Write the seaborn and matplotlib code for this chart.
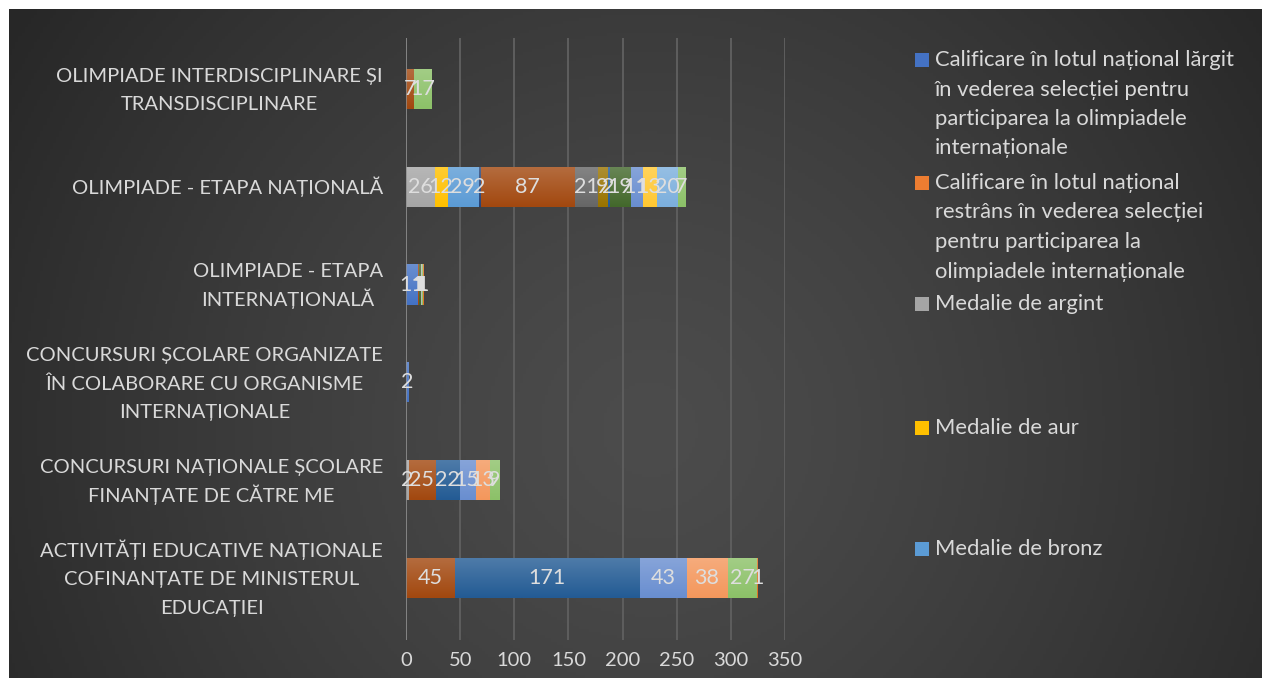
import numpy as np
import pandas as pd
import matplotlib
matplotlib.use("Agg")
import matplotlib.pyplot as plt
import seaborn as sns
from matplotlib.patches import Rectangle
from matplotlib.colors import to_rgb

# ---------------- data ----------------
categories = [
    "OLIMPIADE INTERDISCIPLINARE ȘI\nTRANSDISCIPLINARE",
    "OLIMPIADE - ETAPA NAȚIONALĂ",
    "OLIMPIADE - ETAPA\nINTERNAȚIONALĂ",
    "CONCURSURI ȘCOLARE ORGANIZATE\nÎN COLABORARE CU ORGANISME\nINTERNAȚIONALE",
    "CONCURSURI NAȚIONALE ȘCOLARE\nFINANȚATE DE CĂTRE ME",
    "ACTIVITĂȚI EDUCATIVE NAȚIONALE\nCOFINANȚATE DE MINISTERUL\nEDUCAȚIEI",
]

legend_names = [
    "Calificare în lotul național lărgit\nîn vederea selecției pentru\nparticiparea la olimpiadele\ninternaționale",
    "Calificare în lotul național\nrestrâns în vederea selecției\npentru participarea la\nolimpiadele internaționale",
    "Medalie de argint",
    "Medalie de aur",
    "Medalie de bronz",
]

# one list per series (values per category, top to bottom)
s1 = [0, 0, 11, 2, 0, 0]
s2 = [0, 0, 0, 0, 0, 0]
s3 = [0, 26, 0, 0, 2, 0]
s4 = [0, 12, 0, 0, 0, 0]
s5 = [0, 29, 0, 0, 0, 0]
s6 = [0, 0, 0, 0, 0, 0]
s7 = [0, 2, 0, 0, 0, 0]
s8 = [7, 87, 1, 0, 25, 45]
s9 = [0, 21, 0, 0, 0, 0]
s10 = [0, 9, 0, 0, 0, 0]
s11 = [0, 2, 0, 0, 22, 171]
s12 = [0, 19, 1, 0, 0, 0]
s13 = [0, 11, 0, 0, 15, 43]
s14 = [0, 0, 0, 0, 13, 38]
s15 = [0, 0, 1, 0, 0, 0]
s16 = [0, 13, 0, 0, 0, 0]
s17 = [0, 20, 0, 0, 0, 0]
s18 = [17, 7, 1, 0, 9, 27]
s19 = [0, 0, 0, 0, 0, 0]
s20 = [0, 0, 1, 0, 0, 1]

series_values = [s1, s2, s3, s4, s5, s6, s7, s8, s9, s10,
                 s11, s12, s13, s14, s15, s16, s17, s18, s19, s20]
series_colors = ["#4472C4", "#ED7D31", "#A5A5A5", "#FFC000", "#5B9BD5",
                 "#70AD47", "#264478", "#A2480F", "#666666", "#997300",
                 "#235B94", "#43682B", "#698ED0", "#F4975C", "#B7B7B7",
                 "#FFC833", "#7CAFDD", "#8CC168", "#335AA1", "#E0701E"]

x_ticks = [0, 50, 100, 150, 200, 250, 300, 350]

# ---------------- style ----------------
sns.set_theme(style="dark")
plt.rcParams["font.family"] = ["Lato", "Open Sans", "DejaVu Sans"]
TXT = "#d9d9d9"

W, H = 1263, 682
fig = plt.figure(figsize=(W / 100, H / 100), dpi=100, facecolor="white")

# dark radial gradient background
bg = fig.add_axes([9 / W, 4 / H, 1253 / W, 669 / H], zorder=-5)
gx, gy = np.meshgrid(np.linspace(9, 1262, 400), np.linspace(9, 678, 220))
d = np.sqrt((gx - 650) ** 2 + (gy - 430) ** 2) / 760.0
d = np.clip(d, 0, 1)
c0, c1 = 0x4c / 255, 0x27 / 255
val = c0 + (c1 - c0) * d ** 1.3
img = np.dstack([val, val, val])
bg.imshow(img, extent=[0, 1, 0, 1], aspect="auto", origin="upper")
bg.axis("off")

# main axes
ax = fig.add_axes([406 / W, 1 - 640 / H, 379 / W, 602 / H])
ax.set_facecolor("none")

cum = np.cumsum(np.array(series_values, dtype=float), axis=0)
n = len(series_values)
drawn = 0
for rank, i in enumerate(reversed(range(n))):
    df = pd.DataFrame({"cat": categories, "val": cum[i]})
    sns.barplot(data=df, x="val", y="cat", order=categories, orient="h",
                color=series_colors[i], saturation=1, width=0.41,
                errorbar=None, linewidth=0, edgecolor="none", ax=ax)
    new = ax.patches[drawn:]
    drawn = len(ax.patches)
    z = 1 + rank * 0.01
    base = np.array(to_rgb(series_colors[i]))
    top = base + (1 - base) * 0.2
    t = np.linspace(0, 1, 40)[:, None]
    grad = (top * (1 - t) + base * t).reshape(40, 1, 3)
    for p in new:
        p.set_zorder(z)
        w = p.get_width()
        if w <= 0:
            continue
        x0, y0, h = p.get_x(), p.get_y(), p.get_height()
        im = ax.imshow(grad, extent=[x0, x0 + w, y0 + h, y0], aspect="auto",
                       origin="upper", interpolation="bilinear", zorder=z + 0.001)
        im.set_clip_path(p)

# data labels
for i in range(n):
    for j, v in enumerate(series_values[i]):
        if v > 0:
            ax.text(cum[i][j] - v / 2, j, f"{v}", ha="center", va="center",
                    color="#dedede", fontsize=15.5, zorder=10)

ax.set_xlim(0, 350)
ax.set_ylim(5.634, -0.52)
ax.set_xticks(x_ticks)
ax.set_xticklabels([str(t) for t in x_ticks])
ax.set_yticks(range(len(categories)))
ax.set_yticklabels([])
ax.set_xlabel("")
ax.set_ylabel("")
for sp in ax.spines.values():
    sp.set_visible(False)
ax.grid(axis="x", color="#5e5e5e", linewidth=1.4)
ax.grid(axis="y", visible=False)
ax.set_axisbelow(True)
ax.axvline(0, color="#8e8e8e", linewidth=1.1, zorder=8)
ax.tick_params(axis="x", length=0, pad=9, labelsize=14.5, labelcolor=TXT)
ax.tick_params(axis="y", length=0)

# category labels: centered lines, right edge of the widest line at x=383 px
fig.canvas.draw()
rend = fig.canvas.get_renderer()
LS = 28.5
for j, cat in enumerate(categories):
    lines = cat.split("\n")
    yc = ax.transData.transform((0, j))[1]
    ts = []
    for k, line in enumerate(lines):
        y = yc + ((len(lines) - 1) / 2 - k) * LS - 7.2
        ts.append(fig.text(0.2, y / H, line, ha="center", va="baseline",
                           fontsize=14.5, color=TXT))
    wmax = max(tt.get_window_extent(rend).width for tt in ts)
    for tt in ts:
        tt.set_x((383 - wmax / 2) / W)

# legend (Excel-style, marker aligned with first line)
leg_colors = series_colors[:5]
leg_y = [60, 183, 304, 428, 549]
line_step = 29.5
for name, col, y0 in zip(legend_names, leg_colors, leg_y):
    fig.patches.append(Rectangle((915 / W, 1 - (y0 + 7) / H), 14 / W, 14 / H,
                                 transform=fig.transFigure, facecolor=col,
                                 edgecolor="none", zorder=5))
    for k, line in enumerate(name.split("\n")):
        fig.text(935 / W, 1 - (y0 + k * line_step) / H, line, ha="left",
                 va="center", color=TXT, fontsize=15.8)

fig.savefig("out.png", dpi=100, facecolor="white")
